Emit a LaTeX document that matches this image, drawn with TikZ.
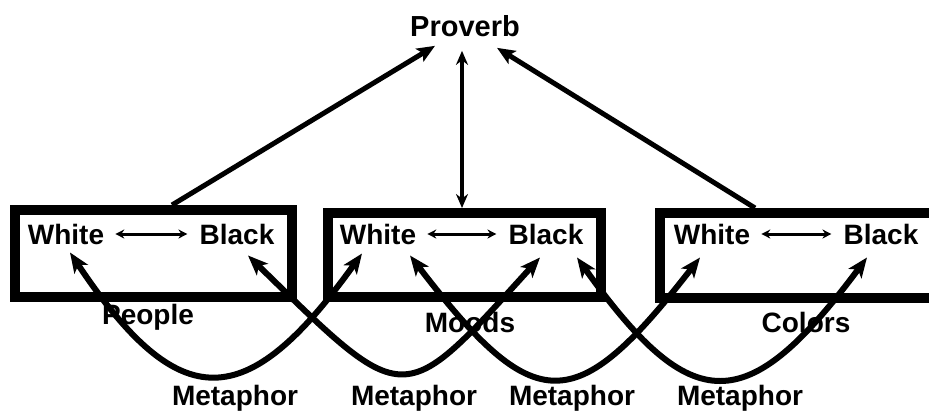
\documentclass[tikz,border=0pt]{standalone}
\usepackage{fontspec}
\setmainfont{Liberation Sans}
\usetikzlibrary{arrows.meta}
\tikzset{
  frame/.style={draw, line width=10pt, inner sep=0pt},
  word/.style={inner sep=0pt, font=\bfseries\fontsize{28}{30}\selectfont},
  pair/.style={line width=3pt, {Stealth[length=9pt,width=9pt]}-{Stealth[length=9pt,width=9pt]}},
  link/.style={line width=5pt, -{Stealth[length=18pt,width=15pt,inset=4pt]}},
  metaphor/.style={line width=6pt, {Stealth[length=20pt,width=16pt,inset=5pt]}-{Stealth[length=20pt,width=16pt,inset=5pt]}}
}
\begin{document}
\begin{tikzpicture}[x=1pt, y=-1pt]
\fill[white] (0,0) rectangle (929,418);
\useasboundingbox (0,0) rectangle (929,418);
% the three domains
\node[frame, minimum width=277pt, minimum height=87pt] (people) at (153.5,253.5) {};
\node[frame, minimum width=273pt, minimum height=84pt] (moods) at (464.5,255) {};
\node[frame, minimum width=285pt, minimum height=85pt] (colors) at (802.5,255.5) {};
\node[word] (white1) at (66,234) {White};
\node[word] (black1) at (237,234) {Black};
\node[word] (white2) at (378,234) {White};
\node[word] (black2) at (546,234) {Black};
\node[word] (white3) at (712,234) {White};
\node[word] (black3) at (881,234) {Black};
\draw[pair, shorten <=11pt, shorten >=12pt] (white1.east) -- (black1.west);
\draw[pair, shorten <=11pt, shorten >=12pt] (white2.east) -- (black2.west);
\draw[pair, shorten <=11pt, shorten >=12pt] (white3.east) -- (black3.west);
\node[word] (lpeople) at (148,317) {People};
\node[word] (lmoods) at (470,322) {Moods};
\node[word] (lcolors) at (806,322) {Colors};
% proverb on top
\node[word, font=\bfseries\fontsize{29}{31}\selectfont] (proverb) at (465,26) {Proverb};
\draw[link] ([xshift=18.5pt]people.north) -- ([xshift=-30pt,yshift=-9pt]proverb.south);
\draw[line width=4pt, {Stealth[length=14pt,width=12pt]}-{Stealth[length=14pt,width=12pt]}] ([xshift=-3pt,yshift=-14pt]proverb.south) -- ([xshift=-2.5pt]moods.north);
\draw[link] ([xshift=-47.5pt]colors.north) -- ([xshift=32pt,yshift=-11pt]proverb.south);
% metaphors
\draw[metaphor] ([xshift=4pt,yshift=-8pt]white1.south) .. controls +(110,165) and +(-115,160) .. ([xshift=-16pt,yshift=-9pt]white2.south);
\draw[metaphor] ([xshift=11pt,yshift=-11pt]black1.south) .. controls +(159,155) and +(-139,153) .. ([xshift=-6pt,yshift=-13pt]black2.south);
\draw[metaphor] ([xshift=32pt,yshift=-11pt]white2.south) .. controls +(125,163) and +(-125,161) .. ([xshift=-12pt,yshift=-13pt]white3.south);
\draw[metaphor] ([xshift=31pt,yshift=-13pt]black2.south) .. controls +(115,161) and +(-120,161) .. ([xshift=-14pt,yshift=-13pt]black3.south);
\node[word] (m1) at (235,398) {Metaphor};
\node[word] (m2) at (414,398) {Metaphor};
\node[word] (m3) at (572,398) {Metaphor};
\node[word] (m4) at (740,398) {Metaphor};
\end{tikzpicture}
\end{document}
